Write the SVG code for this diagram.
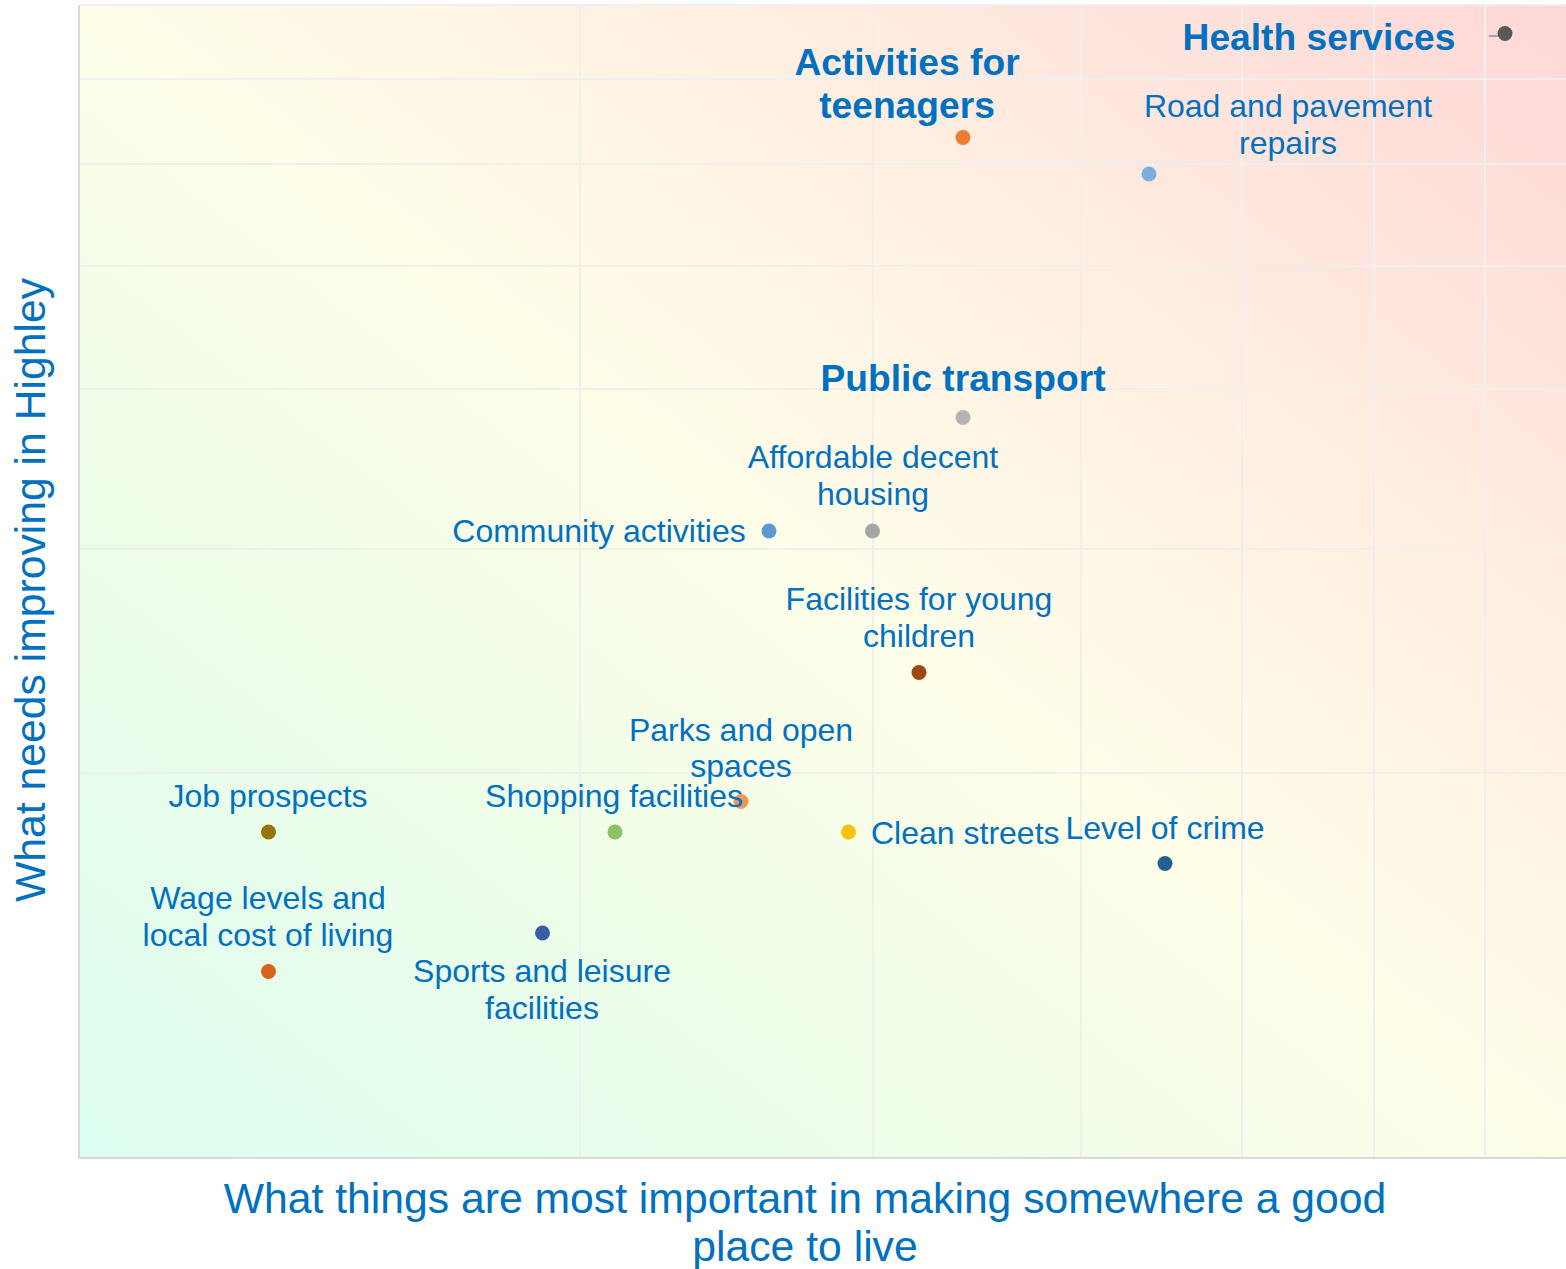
<svg xmlns="http://www.w3.org/2000/svg" width="1566" height="1269" viewBox="0 0 1566 1269">
<defs>
<linearGradient id="bg" x1="0" y1="1" x2="1" y2="0">
<stop offset="0" stop-color="#dcfdf0"/>
<stop offset="0.3" stop-color="#eefde8"/>
<stop offset="0.5" stop-color="#fefee9"/>
<stop offset="0.7" stop-color="#fff0e2"/>
<stop offset="1" stop-color="#ffd7d7"/>
</linearGradient>
<style>
.lbl{font-family:"Liberation Sans",Arial,sans-serif;font-size:32px;fill:#0070c0;text-anchor:middle}
.bold{font-weight:bold;font-size:37.2px}
.axis{font-family:"Liberation Sans",Arial,sans-serif;font-size:42.7px;fill:#0070c0;text-anchor:middle}
.grid{stroke:#efefef;stroke-width:2;fill:none}
.ax{stroke:#d9d9d9;stroke-width:2;fill:none}
</style>
</defs>
<rect width="1566" height="1269" fill="#ffffff"/>
<rect x="79" y="5" width="1487" height="1153" fill="url(#bg)"/>
<g id="gridlines">
<path class="grid" d="M79 5H1566M79 79H1566M79 164H1566M79 266H1566M79 389H1566M79 549H1566M79 773H1566"/>
<path class="grid" d="M580 5V1158M873 5V1158M1081 5V1158M1242 5V1158M1374 5V1158M1485 5V1158"/>
</g>
<g id="axes">
<path class="ax" d="M79 5V1158H1566"/>
</g>
<g id="connectors">
<polyline points="1489,36 1498,36 1505,33" fill="none" stroke="#a6a6a6" stroke-width="2"/>
</g>
<g id="health-services">
<circle cx="1505" cy="33.5" r="7.5" fill="#595959"/>
<text class="lbl bold" x="1319" y="50">Health services</text>
</g>
<g id="activities-teenagers">
<circle cx="963" cy="137.5" r="7.5" fill="#ed7d31"/>
<text class="lbl bold" x="907" y="75">Activities for</text>
<text class="lbl bold" x="907" y="118">teenagers</text>
</g>
<g id="road-pavement">
<circle cx="1149" cy="174" r="7.5" fill="#7cafdd"/>
<text class="lbl" x="1288" y="117">Road and pavement</text>
<text class="lbl" x="1288" y="154">repairs</text>
</g>
<g id="public-transport">
<circle cx="963" cy="417.5" r="7.5" fill="#b4b4b4"/>
<text class="lbl bold" x="963" y="391">Public transport</text>
</g>
<g id="affordable-housing">
<circle cx="872.5" cy="531" r="7.5" fill="#a5a5a5"/>
<text class="lbl" x="873" y="468">Affordable decent</text>
<text class="lbl" x="873" y="505">housing</text>
</g>
<g id="community-activities">
<circle cx="769" cy="531" r="7.5" fill="#5b9bd5"/>
<text class="lbl" x="599" y="542">Community activities</text>
</g>
<g id="facilities-young-children">
<circle cx="919" cy="672.5" r="7.5" fill="#9e480e"/>
<text class="lbl" x="919" y="610">Facilities for young</text>
<text class="lbl" x="919" y="647">children</text>
</g>
<g id="parks-open-spaces">
<circle cx="741" cy="801.5" r="7.5" fill="#f1975a"/>
<text class="lbl" x="741" y="741">Parks and open</text>
<text class="lbl" x="741" y="777">spaces</text>
</g>
<g id="shopping-facilities">
<circle cx="615" cy="832" r="7.5" fill="#8cc168"/>
<text class="lbl" x="614" y="807">Shopping facilities</text>
</g>
<g id="clean-streets">
<circle cx="848.5" cy="832" r="7.5" fill="#ffc000"/>
<text class="lbl" x="871" y="844" style="text-anchor:start">Clean streets</text>
</g>
<g id="level-of-crime">
<circle cx="1165" cy="863.5" r="7.5" fill="#255e91"/>
<text class="lbl" x="1165" y="839">Level of crime</text>
</g>
<g id="job-prospects">
<circle cx="268.5" cy="832" r="7.5" fill="#997300"/>
<text class="lbl" x="268" y="807">Job prospects</text>
</g>
<g id="wage-levels">
<circle cx="268.5" cy="971.5" r="7.5" fill="#d9621b"/>
<text class="lbl" x="268" y="909">Wage levels and</text>
<text class="lbl" x="268" y="946">local cost of living</text>
</g>
<g id="sports-leisure">
<circle cx="542.5" cy="933" r="7.5" fill="#3a5ba6"/>
<text class="lbl" x="542" y="982">Sports and leisure</text>
<text class="lbl" x="542" y="1019">facilities</text>
</g>
<g id="axis-titles">
<text class="axis" x="805" y="1213">What things are most important in making somewhere a good</text>
<text class="axis" x="805" y="1261">place to live</text>
<text class="axis" transform="translate(45 590) rotate(-90)" x="0" y="0">What needs improving in Highley</text>
</g>
</svg>
